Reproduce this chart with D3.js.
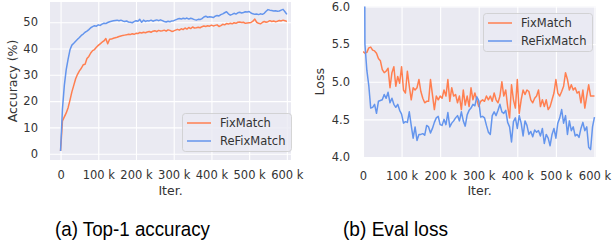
<!DOCTYPE html>
<html>
<head>
<meta charset="utf-8">
<script src="https://cdn.jsdelivr.net/npm/d3@7"></script>
<style>
body { margin: 0; background: #fff; }
text { font-family: "DejaVu Sans", sans-serif; }
</style>
</head>
<body>
<script>
// iterations, one evaluation every 5 k
var iters = d3.range(0, 600001, 5000);

var seriesNames = ["FixMatch", "ReFixMatch"];
var xTicks = [0, 100000, 200000, 300000, 400000, 500000, 600000];
var accTicks = [0, 10, 20, 30, 40, 50];
var lossTicks = [4.0, 4.5, 5.0, 5.5, 6.0];
var captions = ["(a) Top-1 accuracy", "(b) Eval loss"];

var accFix = [1.0, 12.5, 14.0, 15.5, 17.5, 20.4, 23.5, 26.0, 28.5, 30.2,
  31.5, 32.5, 33.8, 34.0, 36.2, 37.0, 38.3, 39.2, 39.6, 40.5,
  41.2, 41.8, 42.4, 42.9, 43.8, 41.8, 43.5, 43.6, 43.9, 44.1,
  44.3, 44.6, 44.8, 45.0, 45.1, 45.2, 45.4, 45.3, 45.6, 45.4,
  45.8, 45.7, 46.1, 45.9, 46.2, 46.0, 46.3, 46.5, 46.2, 46.6,
  46.8, 46.4, 46.9, 46.7, 46.8, 47.0, 46.6, 47.1, 46.9, 46.5,
  46.7, 47.0, 47.3, 47.0, 47.5, 47.2, 47.8, 47.4, 48.0, 47.6,
  48.2, 47.8, 47.9, 48.1, 47.9, 48.3, 48.6, 48.4, 48.7, 48.5,
  48.9, 48.6, 48.8, 49.0, 48.4, 48.7, 49.2, 49.0, 49.5, 49.3,
  49.6, 49.4, 49.8, 49.6, 50.0, 50.1, 49.9, 50.0, 49.6, 49.7,
  49.8, 49.9, 50.4, 51.2, 50.0, 49.6, 49.4, 49.9, 50.3, 50.0,
  50.2, 50.6, 50.3, 50.5, 50.2, 50.4, 50.7, 50.5, 50.8, 50.6,
  50.3];

var accRe = [1.0, 17.0, 26.0, 32.0, 36.0, 39.5, 41.3, 42.0, 42.8, 43.5,
  44.2, 45.0, 45.5, 46.2, 46.6, 47.2, 47.9, 48.3, 48.7, 48.5,
  49.0, 48.8, 49.3, 49.6, 49.5, 49.9, 50.2, 50.4, 50.6, 50.7,
  50.8, 50.6, 50.8, 50.5, 50.3, 50.5, 50.1, 50.0, 49.8, 50.2,
  50.6, 50.4, 51.1, 50.0, 50.8, 50.3, 50.6, 50.5, 50.8, 50.4,
  50.7, 50.9, 50.6, 50.9, 50.6, 50.3, 50.1, 50.4, 50.2, 50.5,
  50.6, 50.9, 51.2, 51.4, 51.2, 51.5, 51.3, 51.6, 51.2, 51.5,
  51.3, 51.0, 50.8, 51.1, 51.0, 51.4, 52.0, 52.3, 51.9, 52.1,
  52.0, 51.8, 52.3, 52.6, 52.4, 52.9, 53.2, 53.6, 54.0, 53.2,
  52.7, 53.0, 53.4, 53.1, 53.6, 53.8, 53.5, 53.7, 54.0, 53.9,
  54.1, 53.5, 53.2, 53.0, 53.1, 52.9, 53.2, 53.0, 53.4, 54.2,
  54.8, 54.6, 54.5, 54.3, 54.4, 54.2, 54.3, 54.6, 54.9, 54.0,
  53.0];

var lossFix = [5.40, 5.38, 5.39, 5.45, 5.46, 5.42, 5.41, 5.38, 5.31, 5.28,
  5.16, 5.12, 5.14, 5.18, 4.92, 5.12, 5.20, 4.94, 5.07, 4.98,
  5.20, 4.89, 4.85, 5.14, 4.94, 4.76, 4.92, 4.89, 4.92, 5.03,
  4.87, 4.78, 4.72, 4.74, 4.74, 5.03, 4.83, 4.63, 4.81, 4.76,
  4.81, 4.78, 4.89, 4.81, 5.03, 4.74, 4.92, 4.81, 4.83, 4.72,
  4.81, 4.63, 4.89, 4.69, 4.81, 4.67, 4.92, 4.76, 4.85, 4.76,
  4.67, 4.74, 4.76, 4.74, 4.81, 4.76, 4.81, 4.74, 4.85, 4.76,
  4.72, 4.81, 5.00, 4.81, 4.89, 4.67, 4.52, 4.96, 4.76, 4.65,
  5.03, 4.58, 4.76, 4.89, 4.83, 4.89, 4.87, 4.76, 4.72, 4.78,
  4.81, 4.89, 4.67, 4.76, 4.67, 4.76, 4.63, 4.67, 4.76, 4.85,
  5.03, 4.85, 4.81, 4.87, 4.94, 5.12, 5.03, 4.89, 4.96, 4.89,
  4.92, 4.85, 4.87, 4.72, 4.89, 4.65, 4.81, 4.96, 4.81, 4.81,
  4.81];

var lossRe = [12.0, 5.50, 5.15, 4.95, 4.65, 4.66, 4.70, 4.58, 4.74, 4.75,
  4.76, 4.83, 4.78, 4.86, 4.72, 4.78, 4.70, 4.66, 4.70, 4.62,
  4.57, 4.45, 4.47, 4.46, 4.60, 4.42, 4.25, 4.40, 4.22, 4.30,
  4.30, 4.31, 4.29, 4.42, 4.40, 4.32, 4.38, 4.46, 4.52, 4.54,
  4.43, 4.42, 4.50, 4.43, 4.59, 4.40, 4.45, 4.48, 4.52, 4.55,
  4.48, 4.60, 4.48, 4.41, 4.56, 4.62, 4.65, 4.70, 4.68, 4.80,
  4.75, 4.53, 4.54, 4.52, 4.42, 4.33, 4.30, 4.55, 4.60, 4.55,
  4.62, 4.70, 4.60, 4.58, 4.62, 4.46, 4.40, 4.20, 4.47, 4.52,
  4.38, 4.55, 4.45, 4.28, 4.48, 4.42, 4.30, 4.34, 4.27, 4.36,
  4.33, 4.35, 4.28, 4.38, 4.18, 4.30, 4.25, 4.15, 4.30, 4.38,
  4.25, 4.45, 4.52, 4.63, 4.45, 4.55, 4.30, 4.48, 4.35, 4.40,
  4.28, 4.30, 4.26, 4.38, 4.46, 4.35, 4.40, 4.13, 4.10, 4.40,
  4.53];

var app = {};
app.colors = ["#FF7F50", "#6495ED"];

app.init = function () {
  var svg = d3.select("body").append("svg")
    .attr("width", 614)
    .attr("height", 245);

  app.drawPanel(svg, {
    left: 50, right: 291, top: 2, bottom: 160,
    xDomain: [-28000, 611000], yDomain: [-2.4, 57.7],
    yTicks: accTicks, yFormat: d3.format("d"),
    yLabel: "Accuracy (%)", yLabelX: 13,
    data: [accFix, accRe],
    xPad: 11, yPad: 12,
    legendX: 182, legendY: 113
  });

  app.drawPanel(svg, {
    left: 363, right: 596, top: 6.5, bottom: 157,
    xDomain: [0, 604000], yDomain: [4, 6],
    yTicks: lossTicks, yFormat: d3.format(".1f"),
    yLabel: "Loss", yLabelX: 320,
    data: [lossFix, lossRe],
    xPad: 15, yPad: 13,
    legendX: 483, legendY: 13
  });

  // sub-figure captions (narrow Helvetica look)
  svg.selectAll(".caption")
    .data(captions)
    .enter().append("text")
    .attr("class", "caption")
    .attr("x", function (d, i) { return i === 0 ? 55 : 343; })
    .attr("y", 236)
    .attr("textLength", function (d, i) { return i === 0 ? 155 : 105; })
    .attr("lengthAdjust", "spacingAndGlyphs")
    .style("font-family", "'Liberation Sans', Arial, sans-serif")
    .style("font-size", "20.5px")
    .attr("fill", "#000")
    .text(function (d) { return d; });
};

app.drawPanel = function (svg, o) {
  var w = o.right - o.left;
  var h = o.bottom - o.top;
  var g = svg.append("g").attr("transform", "translate(" + o.left + "," + o.top + ")");

  var x = d3.scaleLinear().domain(o.xDomain).range([0, w]);
  var y = d3.scaleLinear().domain(o.yDomain).range([h, 0]);

  g.append("rect")
    .attr("width", w)
    .attr("height", h)
    .attr("fill", "#EAEAF2");

  var xAxis = g.append("g")
    .attr("transform", "translate(0," + h + ")")
    .call(d3.axisBottom(x)
      .tickValues(xTicks)
      .tickSize(-h)
      .tickPadding(o.xPad)
      .tickFormat(function (d) { return d === 0 ? "0" : (d / 1000) + " k"; }));

  var yAxis = g.append("g")
    .call(d3.axisLeft(y)
      .tickValues(o.yTicks)
      .tickSize(-w)
      .tickPadding(o.yPad)
      .tickFormat(o.yFormat));

  [xAxis, yAxis].forEach(function (a) {
    a.select(".domain").remove();
    a.selectAll("line").attr("stroke", "#fff").attr("stroke-width", 1.1);
    a.selectAll("text")
      .attr("fill", "#333")
      .style("font-size", "11.5px");
  });

  var clipId = "clip" + o.left;
  g.append("clipPath").attr("id", clipId)
    .append("rect").attr("width", w).attr("height", h);

  var line = d3.line()
    .x(function (d, i) { return x(iters[i]); })
    .y(function (d) { return y(d); });

  g.selectAll(".series")
    .data(o.data)
    .enter().append("path")
    .attr("class", "series")
    .attr("clip-path", "url(#" + clipId + ")")
    .attr("d", line)
    .attr("fill", "none")
    .attr("stroke", function (d, i) { return app.colors[i]; })
    .attr("stroke-width", 1.5)
    .attr("stroke-linejoin", "round");

  svg.append("text")
    .attr("x", (o.left + o.right) / 2)
    .attr("y", 195)
    .attr("text-anchor", "middle")
    .attr("fill", "#333")
    .style("font-size", "12.5px")
    .text("Iter.");

  svg.append("text")
    .attr("transform", "translate(" + o.yLabelX + "," + (o.top + o.bottom) / 2 + ") rotate(-90)")
    .attr("dy", "0.35em")
    .attr("text-anchor", "middle")
    .attr("fill", "#333")
    .style("font-size", "12.5px")
    .text(o.yLabel);

  // legend
  var lg = svg.append("g").attr("transform", "translate(" + o.legendX + "," + o.legendY + ")");
  lg.append("rect")
    .attr("x", 0.5).attr("y", 0.5)
    .attr("width", 109).attr("height", 38)
    .attr("rx", 3)
    .attr("fill", "#EAEAF2")
    .attr("fill-opacity", 0.8)
    .attr("stroke", "#cccccc")
    .attr("stroke-width", 0.8);

  seriesNames.forEach(function (name, i) {
    lg.append("line")
      .attr("x1", 5).attr("x2", 29)
      .attr("y1", 10 + i * 18).attr("y2", 10 + i * 18)
      .attr("stroke", app.colors[i])
      .attr("stroke-width", 1.5);
    lg.append("text")
      .attr("x", 38)
      .attr("y", 10 + i * 18)
      .attr("dy", "0.35em")
      .attr("fill", "#333")
      .style("font-size", "11.5px")
      .text(name);
  });
};

app.init();
</script>
</body>
</html>
